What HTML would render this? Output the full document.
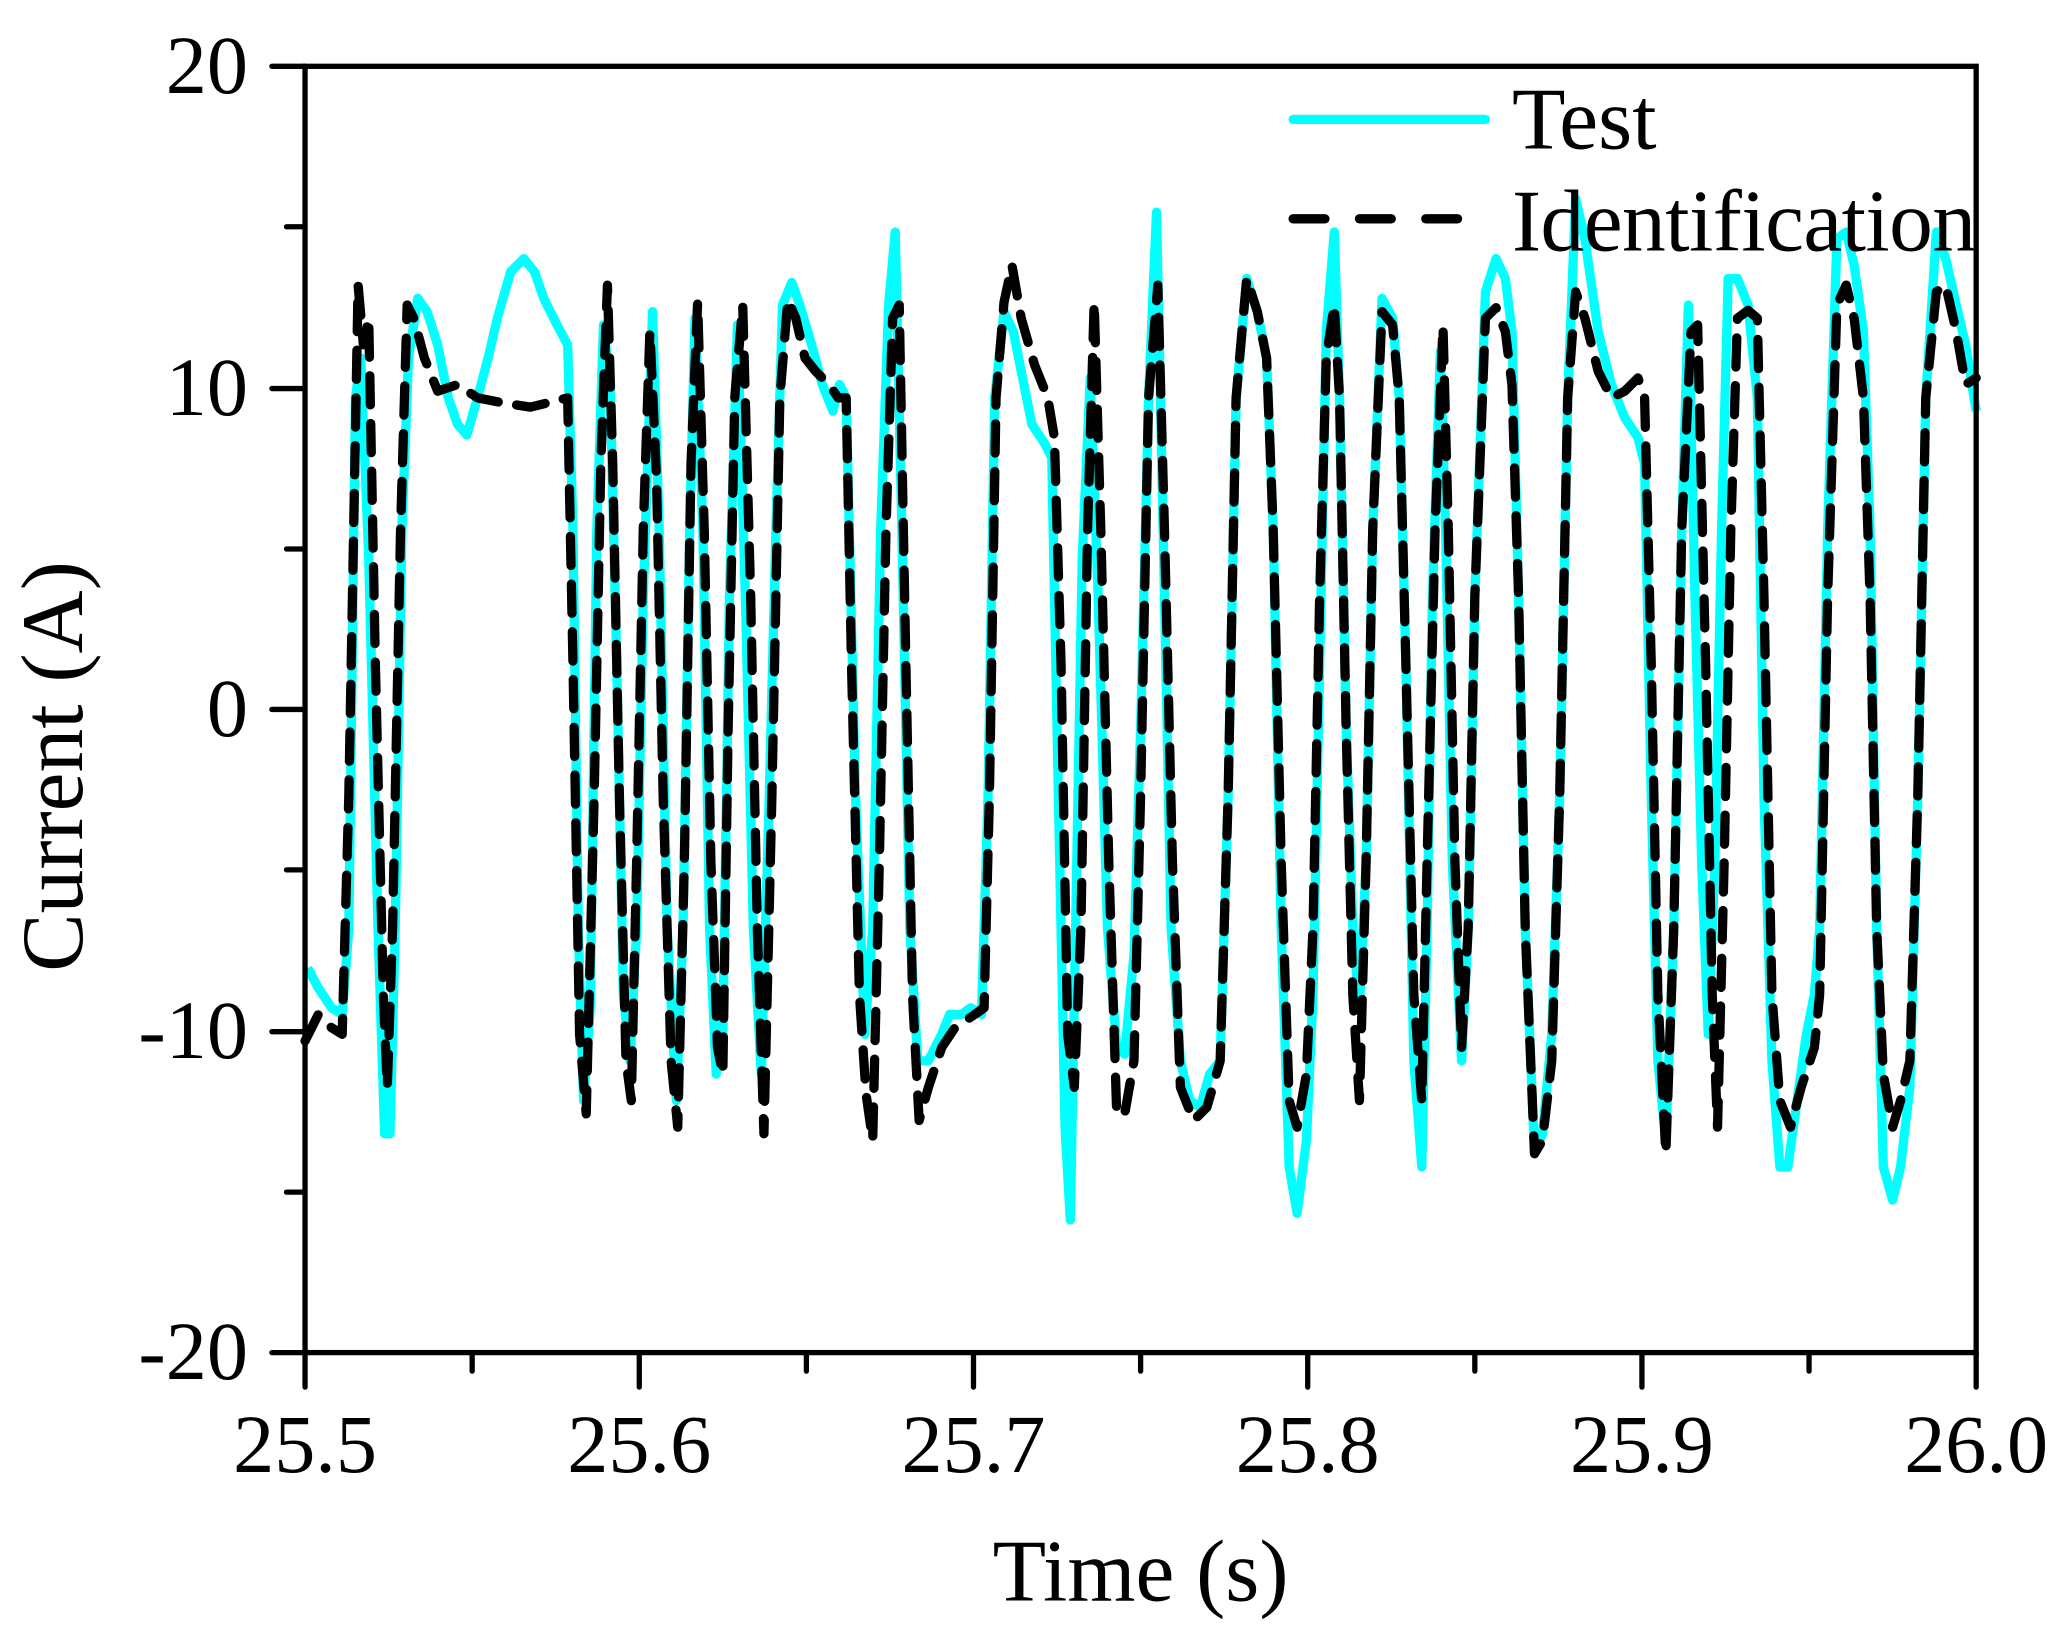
<!DOCTYPE html>
<html><head><meta charset="utf-8"><style>html,body{margin:0;padding:0;background:#fff}svg{display:block}</style></head>
<body>
<svg width="2069" height="1643" viewBox="0 0 1560 1239" preserveAspectRatio="none" xmlns="http://www.w3.org/2000/svg" font-family="Liberation Serif, serif">
<rect width="1560" height="1239" fill="#fff"/>
<polyline fill="none" stroke="#00ffff" stroke-width="7" stroke-linejoin="round" points="232,730 240,745 250,760 258,765 263,700 268,300 272,270 278,420 285,700 290,855 294,855 298,700 303,400 308,270 315,225 322,235 330,260 338,300 345,320 352,328 360,300 368,270 375,240 385,205 395,195 403,205 410,225 420,245 428,260 432,400 436,700 440,830 445,760 450,400 455,245 460,290 465,500 470,750 475,800 480,700 485,450 492,235 497,400 503,700 510,830 515,700 520,400 524,240 530,400 535,700 540,810 545,780 550,450 556,245 562,450 568,700 574,810 580,600 585,400 590,230 597,213 603,230 612,260 620,290 628,310 633,290 638,300 645,600 652,780 658,700 664,400 670,230 675,175 680,400 686,700 692,800 700,800 710,780 716,765 725,765 732,760 740,765 745,600 750,300 757,235 764,250 770,280 778,320 788,335 793,345 798,600 803,850 807,920 811,700 816,420 822,285 828,450 835,700 842,790 848,795 855,720 860,550 866,300 872,160 877,400 883,700 890,800 897,830 905,835 912,810 920,800 926,600 932,300 940,210 948,235 955,270 960,400 966,700 972,880 978,915 985,860 990,750 995,500 1000,250 1006,175 1010,300 1015,550 1020,700 1025,760 1030,650 1035,400 1042,225 1050,240 1055,300 1060,500 1066,800 1072,880 1076,700 1080,450 1086,265 1090,400 1095,650 1102,800 1107,700 1112,450 1120,220 1128,195 1135,210 1140,250 1145,450 1150,700 1157,870 1163,855 1170,780 1176,600 1182,300 1188,150 1195,180 1205,250 1215,290 1225,315 1235,330 1240,350 1245,600 1250,800 1256,860 1262,700 1268,400 1273,230 1278,450 1283,650 1288,780 1293,650 1298,400 1303,210 1310,210 1318,230 1325,300 1330,600 1336,800 1342,880 1348,880 1355,830 1362,780 1368,750 1372,700 1378,400 1385,180 1392,175 1398,200 1405,250 1410,400 1415,700 1420,880 1427,905 1433,880 1440,820 1446,600 1452,300 1460,175 1467,195 1475,230 1482,260 1490,310"/>
<polyline fill="none" stroke="#000" stroke-width="7" stroke-linejoin="round" stroke-linecap="round" stroke-dasharray="22,14" points="230,785 240,765 250,775 258,780 263,600 270,215 274,260 278,240 283,500 289,750 292,820 296,700 302,400 307,230 312,240 320,270 330,295 345,290 360,300 380,304 400,307 420,302 428,300 432,500 437,780 442,840 448,600 453,350 458,215 462,350 467,600 472,800 476,830 480,650 485,400 490,250 495,360 500,600 506,800 511,850 516,650 521,350 526,228 531,400 536,650 541,790 545,810 549,550 554,300 560,230 566,450 571,700 576,855 582,600 588,300 594,226 600,240 607,270 615,280 625,290 632,300 638,300 642,500 648,750 653,825 658,860 663,650 668,400 673,240 678,230 683,500 688,750 693,845 700,820 710,790 720,775 735,765 742,760 746,600 751,300 757,228 763,200 770,240 780,275 790,300 795,330 800,500 805,780 810,820 815,700 820,400 825,228 830,400 836,650 842,840 848,840 855,800 860,600 866,300 873,215 878,400 884,650 890,820 900,845 910,835 920,800 926,600 932,300 940,210 948,235 955,270 960,400 966,650 972,830 978,850 985,810 990,700 995,450 1000,270 1006,230 1010,300 1015,550 1020,750 1025,830 1030,650 1035,400 1042,235 1050,245 1055,300 1060,500 1066,750 1072,830 1076,650 1082,400 1088,246 1092,400 1097,650 1102,790 1107,700 1112,450 1120,240 1128,232 1135,250 1140,290 1145,450 1150,700 1157,870 1163,860 1170,800 1176,600 1182,300 1188,220 1195,240 1205,280 1215,300 1225,295 1235,285 1240,300 1245,500 1250,750 1256,870 1262,700 1268,400 1275,250 1280,245 1286,500 1291,750 1295,850 1300,650 1305,400 1310,240 1318,234 1325,240 1330,450 1336,750 1342,830 1350,850 1358,820 1368,790 1372,750 1378,450 1385,230 1392,215 1398,240 1405,300 1410,450 1415,700 1420,810 1427,850 1433,830 1440,800 1446,600 1452,300 1460,220 1467,215 1475,250 1482,290 1490,285"/>
<!-- legend -->
<line x1="975" y1="90" x2="1120" y2="90" stroke="#00ffff" stroke-width="7" stroke-linecap="round"/>
<line x1="975" y1="165" x2="1120" y2="165" stroke="#000" stroke-width="7" stroke-linecap="round" stroke-dasharray="24,26"/>
<text x="1140" y="112" font-size="66">Test</text>
<text x="1140" y="189" font-size="66" textLength="350">Identification</text>
<!-- axes -->
<rect x="230" y="50" width="1260" height="970" fill="none" stroke="#000" stroke-width="4"/>
<g stroke="#000" stroke-width="4" stroke-linecap="round">
<line x1="205" y1="50" x2="230" y2="50"/><line x1="205" y1="293" x2="230" y2="293"/><line x1="205" y1="535" x2="230" y2="535"/><line x1="205" y1="778" x2="230" y2="778"/><line x1="205" y1="1020" x2="230" y2="1020"/>
<line x1="216" y1="171" x2="230" y2="171"/><line x1="216" y1="414" x2="230" y2="414"/><line x1="216" y1="656" x2="230" y2="656"/><line x1="216" y1="899" x2="230" y2="899"/>
<line x1="230" y1="1020" x2="230" y2="1046"/><line x1="482" y1="1020" x2="482" y2="1046"/><line x1="734" y1="1020" x2="734" y2="1046"/><line x1="986" y1="1020" x2="986" y2="1046"/><line x1="1238" y1="1020" x2="1238" y2="1046"/><line x1="1490" y1="1020" x2="1490" y2="1046"/>
<line x1="356" y1="1020" x2="356" y2="1034"/><line x1="608" y1="1020" x2="608" y2="1034"/><line x1="860" y1="1020" x2="860" y2="1034"/><line x1="1112" y1="1020" x2="1112" y2="1034"/><line x1="1364" y1="1020" x2="1364" y2="1034"/>
</g>
<g font-size="62" text-anchor="end">
<text x="187" y="70">20</text><text x="187" y="313">10</text><text x="187" y="555">0</text><text x="187" y="798">-10</text><text x="187" y="1040">-20</text>
</g>
<g font-size="62" text-anchor="middle">
<text x="230" y="1110">25.5</text><text x="482" y="1110">25.6</text><text x="734" y="1110">25.7</text><text x="986" y="1110">25.8</text><text x="1238" y="1110">25.9</text><text x="1490" y="1110">26.0</text>
</g>
<text x="860" y="1207" font-size="66" text-anchor="middle">Time (s)</text>
<text transform="translate(62,578) rotate(-90)" font-size="66" text-anchor="middle">Current (A)</text>
</svg>
</body></html>
